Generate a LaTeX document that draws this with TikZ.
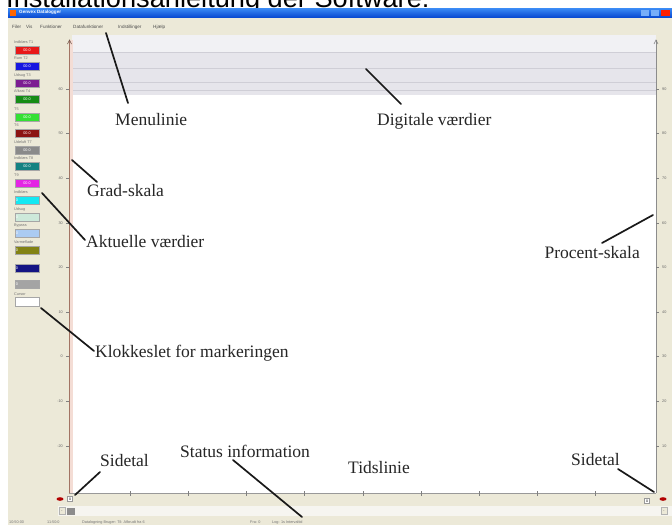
\documentclass[tikz,border=0pt]{standalone}
\usepackage{fontspec}
\setmainfont{Liberation Serif}
\newfontfamily\headfont{Liberation Sans}
\newfontfamily\uifont{Liberation Sans}
\definecolor{winbeige}{HTML}{ECE9D8}
\definecolor{tbtop}{HTML}{3C8CF6}
\definecolor{tbbot}{HTML}{0848D0}
\definecolor{axisbrown}{HTML}{A27464}
\definecolor{pinkstrip}{HTML}{F4DDD5}
\definecolor{bandgray}{HTML}{E6E5EB}
\definecolor{bandline}{HTML}{CFCED6}
\definecolor{tracklight}{HTML}{F6F5F0}
\definecolor{cRed}{HTML}{E81818}
\definecolor{cBlue}{HTML}{1818E0}
\definecolor{cPurple}{HTML}{7C1C92}
\definecolor{cDGreen}{HTML}{168C16}
\definecolor{cLime}{HTML}{34E034}
\definecolor{cDRed}{HTML}{8C1414}
\definecolor{cGray}{HTML}{8A8A8A}
\definecolor{cTeal}{HTML}{148282}
\definecolor{cMagenta}{HTML}{E424E4}
\definecolor{cCyan}{HTML}{14E8F2}
\definecolor{cMint}{HTML}{CDE9DA}
\definecolor{cLBlue}{HTML}{ABCBF2}
\definecolor{cOlive}{HTML}{828214}
\definecolor{cNavy}{HTML}{141484}
\definecolor{cLGray}{HTML}{A4A4A4}
\tikzset{
  ann/.style={font=\fontsize{17.5}{20}\selectfont, inner sep=0, text=black!85},
  pointer/.style={line width=1.7pt, black!90, line cap=round},
  tinytext/.style={font=\uifont\fontsize{3.8}{4}\selectfont, text=black!55, inner sep=0},
  menutext/.style={font=\uifont\fontsize{4.6}{5}\selectfont, text=black!70, inner sep=0, anchor=base west},
  valbox/.style={minimum width=24pt, minimum height=8pt, inner sep=0, draw=black!35, line width=0.3pt,
                 font=\uifont\fontsize{3.8}{4}\selectfont, text=white},
  ticklbl/.style={font=\uifont\fontsize{3.8}{4}\selectfont, text=black!60, inner sep=0}
}
\begin{document}
\begin{tikzpicture}[x=1pt,y=-1pt]
\useasboundingbox (0,0) rectangle (672,525);
\clip (0,0) rectangle (672,525);
\fill[white] (0,0) rectangle (672,525);
% heading (cut by the top edge)
\node[anchor=base west, font=\headfont\fontsize{27.2}{30}\selectfont, inner sep=0] (head) at (6,7.5) {Installationsanleitung der Software:};
% window
\fill[winbeige] (8,8) rectangle (672,525);
\shade[top color=tbtop, bottom color=tbbot] (8,8) rectangle (672,17.5);
\fill[orange!80!red] (10,9.5) rectangle (16,16);
\node[font=\uifont\bfseries\fontsize{4.6}{5}\selectfont, text=white, anchor=west, inner sep=0] (title) at (19,12.8) {Genvex Datalogger};
\fill[tbtop!70!white] (641,9.5) rectangle (649,16);
\fill[tbtop!70!white] (651,9.5) rectangle (659,16);
\fill[red!75!orange] (661,9.5) rectangle (670,16);
% menu
\node[menutext] (m1) at (12,28) {Filer};
\node[menutext] (m2) at (26,28) {Vis};
\node[menutext] (m3) at (40,28) {Funktioner};
\node[menutext] (m4) at (73,28) {Datafunktioner};
\node[menutext] (m5) at (118,28) {Indstillinger};
\node[menutext] (m6) at (153,28) {Hjælp};
% plot area
\fill[white] (72,35) rectangle (656,493);
\fill[bandgray!55!white] (72,35) rectangle (656,52);
\fill[bandgray] (72,52) rectangle (656,95);
\draw[bandline, line width=0.6pt] (72,52) -- (656,52) (72,68) -- (656,68) (72,82) -- (656,82) (72,90) -- (656,90);
\fill[pinkstrip] (69,40) rectangle (73,493);
\draw[axisbrown, line width=1.1pt] (69.5,40) -- (69.5,493);
\draw[axisbrown!70!black, line width=0.6pt] (67.5,44) -- (69.5,40) -- (71.5,44);
\draw[black!45, line width=1pt] (656,40) -- (656,493);
\draw[black!50, line width=0.6pt] (654,44) -- (656,40) -- (658,44);
\foreach \i/\l/\r in {0/60/90,1/50/80,2/40/70,3/30/60,4/20/50,5/10/40,6/0/30,7/-10/20,8/-20/10}{
  \draw[black!50, line width=0.5pt] (66,89+44.6*\i) -- (69,89+44.6*\i);
  \node[ticklbl, anchor=east] at (63,89+44.6*\i) {\l};
  \draw[black!50, line width=0.5pt] (656,89+44.6*\i) -- (659,89+44.6*\i);
  \node[ticklbl, anchor=west] at (662,89+44.6*\i) {\r};
}
% time line
\draw[black!40, line width=0.8pt] (69,493) -- (656,493);
\foreach \k in {0,...,8}{
  \draw[black!50, line width=0.5pt] (130+58.2*\k,491) -- (130+58.2*\k,496);
}
\fill[red!70!black] (60,499) ellipse (3.5 and 1.8);
\node[draw=black!40, fill=white, minimum size=5pt, inner sep=0, font=\uifont\fontsize{3.5}{4}\selectfont] (pl) at (70,499) {0};
\node[draw=black!40, fill=white, minimum size=5pt, inner sep=0, font=\uifont\fontsize{3.5}{4}\selectfont] (pr) at (647,501) {0};
\fill[red!70!black] (663,499) ellipse (3.5 and 1.8);
% scroll bar
\fill[tracklight] (58,506) rectangle (672,516);
\node[draw=black!30, fill=winbeige, minimum width=6pt, minimum height=7pt, inner sep=0, font=\fontsize{4}{4}\selectfont] (sl) at (62,511) {$\cdot$};
\fill[black!45] (67,507.5) rectangle (75,514.5);
\node[draw=black!30, fill=winbeige, minimum width=6pt, minimum height=7pt, inner sep=0, font=\fontsize{4}{4}\selectfont] (sr) at (664,511) {$\cdot$};
% status bar
\node[tinytext, anchor=base west] (s1) at (9,523.5) {10:50:00};
\node[tinytext, anchor=base west] (s2) at (47,523.5) {11:50:0};
\node[tinytext, anchor=base west] (s3) at (82,523.5) {Datalogning Bruger: Til: Afbrudt fra 6};
\node[tinytext, anchor=base west] (s4) at (250,523.5) {Fra: 0};
\node[tinytext, anchor=base west] (s5) at (272,523.5) {Log: 1s Intervaltid};
% value boxes
\foreach \y/\c/\lab/\v in {50/cRed/Indblæs T1/00.0, 66/cBlue/Rum T2/00.0, 83/cPurple/Udsug T3/00.0,
    99/cDGreen/Afkast T4/00.0, 117/cLime/T5/00.0, 133/cDRed/T6/00.0, 150/cGray/Udeluft T7/00.0,
    166/cTeal/Indblæs T8/00.0, 183/cMagenta/T9/00.0}{
  \node[tinytext, anchor=base west] at (14,\y-6.5) {\lab};
  \node[valbox, fill=\c] at (27,\y) {\v};
}
\foreach \y/\c/\lab in {200/cCyan/Indblæs, 217/cMint/Udsug, 233/cLBlue/Bypass, 250/cOlive/Varmeflade,
    268/cNavy/{}, 284/cLGray/{}}{
  \node[tinytext, anchor=base west] at (14,\y-6.5) {\lab};
  \node[valbox, fill=\c, text width=22pt, align=left] at (27,\y) {0};
}
\node[tinytext, anchor=base west] at (14,295.5) {Cursor};
\node[valbox, fill=white, minimum height=9pt] (clock) at (27,302) {};
% annotations
\node[ann, anchor=base west] (lmenu) at (115,125) {Menulinie};
\node[ann, anchor=base west] (ldig) at (377,125) {Digitale værdier};
\node[ann, anchor=base west] (lgrad) at (87,196) {Grad-skala};
\node[ann, anchor=base west] (lakt) at (86,247) {Aktuelle værdier};
\node[ann, anchor=base west] (lklok) at (95,357) {Klokkeslet for markeringen};
\node[ann, anchor=base east] (lproc) at (640,258) {Procent-skala};
\node[ann, anchor=base west] (lside1) at (100,466) {Sidetal};
\node[ann, anchor=base west] (lstat) at (180,457) {Status information};
\node[ann, anchor=base west] (ltid) at (348,473) {Tidslinie};
\node[ann, anchor=base west] (lside2) at (571,465) {Sidetal};
\coordinate (pMenu) at (106,33);   \coordinate (eMenu) at (128,103);
\coordinate (pDig) at (366,69);    \coordinate (eDig) at (401,104);
\coordinate (pGrad) at (72,160);   \coordinate (eGrad) at (97,182);
\coordinate (pAkt) at (42,193);    \coordinate (eAkt) at (85,240);
\coordinate (pKlok) at (41,308);   \coordinate (eKlok) at (94,351);
\coordinate (pProc) at (653,215);  \coordinate (eProc) at (602,243);
\coordinate (pSide1) at (75,495);  \coordinate (eSide1) at (100,472);
\coordinate (pStat) at (302,517);  \coordinate (eStat) at (233,460);
\coordinate (pSide2) at (654,492); \coordinate (eSide2) at (618,469);
\draw[pointer] (pMenu) -- (eMenu);
\draw[pointer] (pDig) -- (eDig);
\draw[pointer] (pGrad) -- (eGrad);
\draw[pointer] (pAkt) -- (eAkt);
\draw[pointer] (pKlok) -- (eKlok);
\draw[pointer] (pProc) -- (eProc);
\draw[pointer] (pSide1) -- (eSide1);
\draw[pointer] (pStat) -- (eStat);
\draw[pointer] (pSide2) -- (eSide2);
\end{tikzpicture}
\end{document}
